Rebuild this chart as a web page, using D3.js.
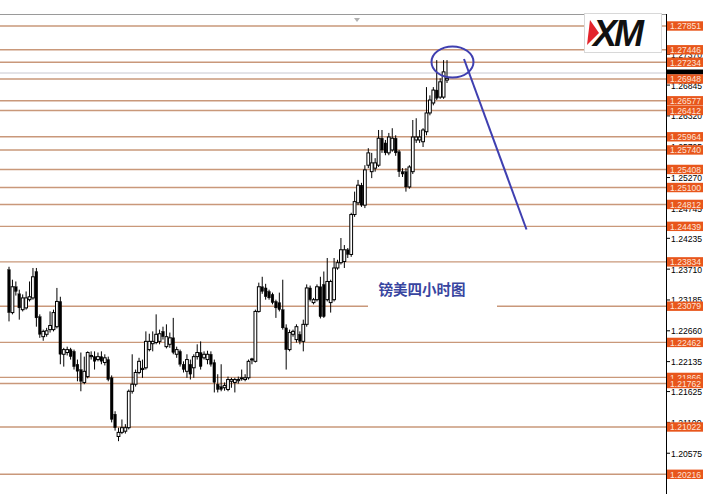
<!DOCTYPE html>
<html><head><meta charset="utf-8">
<script src="https://cdn.jsdelivr.net/npm/d3@7/dist/d3.min.js"></script>
<style>body{margin:0;background:#fff}svg{display:block}</style>
</head><body><svg id="c" width="721" height="494"></svg>
<script>
// GBP/USD 4-hour candles
const opens = [
1.2370,1.2297,1.2341,1.2329,1.2302,1.2305,1.2319,1.2322,1.2367,1.2290,
1.2256,1.2260,1.2268,1.2268,1.2273,1.2316,1.2226,1.2229,1.2234,1.2231,
1.2209,1.2200,1.2178,1.2188,1.2222,1.2222,1.2217,1.2222,1.2212,1.2217,
1.2186,1.2124,1.2086,1.2093,1.2095,1.2101,1.2163,1.2175,1.2195,1.2200,
1.2203,1.2234,1.2244,1.2246,1.2248,1.2265,1.2239,1.2243,1.2254,1.2226,
1.2231,1.2209,1.2197,1.2209,1.2203,1.2222,1.2229,1.2220,1.2217,1.2226,
1.2212,1.2175,1.2171,1.2169,1.2166,1.2180,1.2178,1.2181,1.2185,1.2183,
1.2186,1.2217,1.2214,1.2299,1.2341,1.2339,1.2333,1.2328,1.2316,1.2314,
1.2302,1.2271,1.2234,1.2260,1.2251,1.2260,1.2248,1.2277,1.2339,1.2314,
1.2319,1.2341,1.2345,1.2319,1.2314,1.2319,1.2373,1.2382,1.2384,1.2404,
1.2396,1.2464,1.2484,1.2514,1.2480,1.2548,1.2537,1.2543,1.2548,1.2594,
1.2586,1.2569,1.2574,1.2594,1.2571,1.2537,1.2537,1.2511,1.2537,1.2591,
1.2591,1.2588,1.2605,1.2637,1.2654,1.2676,1.2664,1.2664,1.2693];
const highs = [
1.2375,1.2353,1.2350,1.2336,1.2328,1.2333,1.2350,1.2373,1.2373,1.2294,
1.2268,1.2271,1.2299,1.2302,1.2339,1.2324,1.2237,1.2239,1.2237,1.2234,
1.2217,1.2229,1.2222,1.2231,1.2231,1.2231,1.2229,1.2231,1.2226,1.2222,
1.2190,1.2129,1.2101,1.2115,1.2107,1.2166,1.2226,1.2200,1.2220,1.2217,
1.2265,1.2261,1.2265,1.2294,1.2268,1.2273,1.2277,1.2263,1.2288,1.2239,
1.2234,1.2214,1.2226,1.2217,1.2226,1.2243,1.2248,1.2231,1.2232,1.2231,
1.2217,1.2192,1.2209,1.2178,1.2188,1.2186,1.2186,1.2188,1.2200,1.2192,
1.2217,1.2220,1.2302,1.2348,1.2358,1.2346,1.2336,1.2331,1.2319,1.2331,
1.2353,1.2277,1.2268,1.2268,1.2277,1.2265,1.2285,1.2345,1.2343,1.2322,
1.2345,1.2358,1.2367,1.2390,1.2353,1.2390,1.2387,1.2424,1.2412,1.2407,
1.2467,1.2503,1.2523,1.2518,1.2548,1.2577,1.2569,1.2560,1.2608,1.2608,
1.2591,1.2603,1.2611,1.2599,1.2574,1.2543,1.2543,1.2548,1.2625,1.2628,
1.2608,1.2611,1.2681,1.2667,1.2681,1.2727,1.2696,1.2727,1.2727];
const lows = [
1.2282,1.2294,1.2326,1.2285,1.2299,1.2302,1.2316,1.2319,1.2273,1.2254,
1.2249,1.2256,1.2263,1.2265,1.2270,1.2209,1.2205,1.2224,1.2217,1.2200,
1.2180,1.2163,1.2175,1.2185,1.2217,1.2200,1.2214,1.2209,1.2207,1.2180,
1.2110,1.2096,1.2078,1.2090,1.2091,1.2098,1.2159,1.2171,1.2192,1.2186,
1.2200,1.2231,1.2231,1.2243,1.2243,1.2251,1.2236,1.2237,1.2226,1.2220,
1.2205,1.2195,1.2186,1.2183,1.2186,1.2217,1.2200,1.2217,1.2209,1.2205,
1.2161,1.2161,1.2163,1.2164,1.2163,1.2169,1.2161,1.2176,1.2181,1.2180,
1.2183,1.2209,1.2212,1.2297,1.2329,1.2319,1.2319,1.2311,1.2288,1.2299,
1.2268,1.2200,1.2231,1.2256,1.2246,1.2243,1.2231,1.2273,1.2316,1.2311,
1.2316,1.2287,1.2288,1.2316,1.2297,1.2316,1.2370,1.2379,1.2373,1.2390,
1.2392,1.2460,1.2480,1.2477,1.2475,1.2543,1.2526,1.2537,1.2545,1.2569,
1.2565,1.2565,1.2571,1.2564,1.2528,1.2528,1.2503,1.2508,1.2533,1.2586,
1.2586,1.2579,1.2599,1.2633,1.2650,1.2659,1.2661,1.2661,1.2688];
const closes = [
1.2297,1.2341,1.2333,1.2305,1.2322,1.2322,1.2324,1.2358,1.2288,1.2260,
1.2265,1.2266,1.2275,1.2297,1.2316,1.2226,1.2234,1.2234,1.2222,1.2205,
1.2197,1.2180,1.2197,1.2229,1.2224,1.2214,1.2222,1.2214,1.2220,1.2183,
1.2115,1.2101,1.2093,1.2101,1.2101,1.2163,1.2175,1.2195,1.2214,1.2202,
1.2248,1.2248,1.2248,1.2260,1.2261,1.2256,1.2256,1.2254,1.2229,1.2234,
1.2209,1.2200,1.2217,1.2192,1.2222,1.2229,1.2205,1.2226,1.2226,1.2209,
1.2178,1.2166,1.2166,1.2173,1.2183,1.2183,1.2183,1.2183,1.2186,1.2186,
1.2214,1.2218,1.2299,1.2341,1.2333,1.2324,1.2322,1.2314,1.2305,1.2302,
1.2271,1.2234,1.2263,1.2265,1.2273,1.2248,1.2277,1.2339,1.2319,1.2319,
1.2341,1.2290,1.2290,1.2350,1.2350,1.2373,1.2382,1.2404,1.2404,1.2396,
1.2464,1.2486,1.2514,1.2480,1.2540,1.2569,1.2552,1.2552,1.2594,1.2574,
1.2569,1.2596,1.2594,1.2569,1.2537,1.2533,1.2511,1.2545,1.2596,1.2596,
1.2596,1.2608,1.2637,1.2659,1.2676,1.2662,1.2690,1.2707,1.2696];

// horizontal support / resistance levels with their price tags
const levels = [1.27851,1.27446,1.27234,1.26948,1.26577,1.26412,1.25964,1.25740,
  1.25408,1.25100,1.24812,1.24439,1.23834,1.23079,1.22462,1.21866,1.21762,1.21022,1.20216];
// price-axis tick labels
const axisTicks = [1.27370,1.26845,1.26320,1.25795,1.25270,1.24745,1.24235,
  1.23710,1.23185,1.22660,1.22135,1.21625,1.21100,1.20575];
const titleText = "镑美四小时图";
const logoText = "XM";

const svg = d3.select("#c");
const W = 721, H = 494;
const axisX = 666;

const y = d3.scaleLinear().domain([1.27851, 1.20216]).range([26, 474.3]);
const idx = d3.range(opens.length);
const x = d3.scalePoint().domain(idx).range([9, 447]);

svg.append("rect").attr("width", W).attr("height", H).attr("fill", "#fff");

// top window border
svg.append("line").attr("x1", 0).attr("x2", axisX).attr("y1", 14.5).attr("y2", 14.5)
  .attr("stroke", "#9a9a9a").attr("stroke-width", 1);
svg.append("path").attr("d", "M354,18 L360,18 L357,22 Z").attr("fill", "#b0b0b0");

// level lines
svg.append("g").selectAll("line").data(levels).join("line")
  .attr("x1", 0).attr("x2", axisX)
  .attr("y1", d => y(d)).attr("y2", d => y(d))
  .attr("stroke", "#c9987a").attr("stroke-width", 1.4);

// bid line
svg.append("line").attr("x1", 0).attr("x2", axisX).attr("y1", 73).attr("y2", 73)
  .attr("stroke", "#c8c8d0").attr("stroke-width", 1);

// title with white backing
svg.append("rect").attr("x", 368).attr("y", 272).attr("width", 129).attr("height", 37).attr("fill", "#fff");
svg.append("text").attr("x", 422).attr("y", 295).attr("text-anchor", "middle")
  .attr("font-family", "'Noto Sans CJK SC', sans-serif").attr("font-size", 14.5)
  .attr("font-weight", "bold").attr("fill", "#3845a0").text(titleText);

// candles
const g = svg.append("g");
idx.forEach(i => {
  const cx = x(i), o = opens[i], c = closes[i];
  g.append("line").attr("x1", cx).attr("x2", cx).attr("y1", y(highs[i])).attr("y2", y(lows[i]))
    .attr("stroke", "#000").attr("stroke-width", 1);
  const top = y(Math.max(o, c)), bot = y(Math.min(o, c));
  const bear = c < o;
  g.append("rect").attr("x", cx - 1.4).attr("width", 2.8)
    .attr("y", top).attr("height", Math.max(1, bot - top))
    .attr("fill", bear ? "#000" : "#fff").attr("stroke", "#000").attr("stroke-width", bear ? 0.3 : 1);
});

// price axis
svg.append("line").attr("x1", axisX + 0.5).attr("x2", axisX + 0.5).attr("y1", 14).attr("y2", H)
  .attr("stroke", "#000").attr("stroke-width", 1);
const tg = svg.append("g");
axisTicks.forEach(t => {
  tg.append("line").attr("x1", axisX).attr("x2", axisX + 4).attr("y1", y(t)).attr("y2", y(t))
    .attr("stroke", "#000");
  tg.append("text").attr("x", 671).attr("y", y(t) + 3.5)
    .attr("font-family", "'Liberation Sans', Arial, sans-serif").attr("font-size", 8.6)
    .attr("fill", "#000").text(t.toFixed(5));
});

// bid marker
svg.append("rect").attr("x", 667).attr("y", 69.5).attr("width", 36).attr("height", 5).attr("fill", "#000");

// level tags
const lg = svg.append("g");
levels.forEach(l => {
  lg.append("rect").attr("x", 667).attr("y", y(l) - 4.7).attr("width", 36).attr("height", 9.4)
    .attr("fill", "#e8561c");
  lg.append("text").attr("x", 670).attr("y", y(l) + 3.3)
    .attr("font-family", "'Liberation Sans', Arial, sans-serif").attr("font-size", 8.6)
    .attr("fill", "#fde3d6").text(l.toFixed(5));
});

// XM logo
svg.append("rect").attr("x", 584.5).attr("y", 13.5).attr("width", 77).attr("height", 39)
  .attr("fill", "#fff").attr("stroke", "#d8d8d8");
svg.append("text").attr("x", 593).attr("y", 46)
  .attr("font-family", "'Liberation Sans', Arial, sans-serif").attr("font-size", 36)
  .attr("font-weight", "bold").attr("font-style", "italic").attr("letter-spacing", -3)
  .attr("fill", "#111").text(logoText);
svg.append("path").attr("d", "M590,20 L599,33 L587,45 Z").attr("fill", "#e3242b");

// annotation: ellipse + arrow line
svg.append("ellipse").attr("cx", 452.5).attr("cy", 62).attr("rx", 21).attr("ry", 15.5)
  .attr("fill", "none").attr("stroke", "#3f3fb0").attr("stroke-width", 2);
svg.append("line").attr("x1", 464).attr("y1", 59).attr("x2", 526.5).attr("y2", 229.5)
  .attr("stroke", "#3f3fb0").attr("stroke-width", 2);
</script></body></html>
